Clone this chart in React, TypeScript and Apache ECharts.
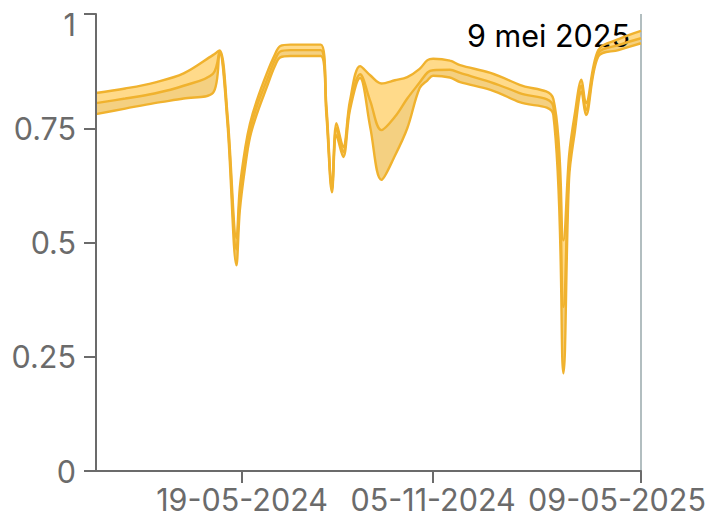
import React, { useEffect, useRef } from 'react';
import * as echarts from 'echarts';

const FONT = 'Inter, "Noto Sans", sans-serif';

const dates = [
  '2024-01-10', '2024-02-05', '2024-03-02', '2024-03-28', '2024-04-23', '2024-04-29',
  '2024-05-06', '2024-05-14', '2024-05-17', '2024-05-22', '2024-05-26', '2024-06-01',
  '2024-06-10', '2024-06-17', '2024-06-22', '2024-07-01', '2024-07-28', '2024-08-02',
  '2024-08-07', '2024-08-11', '2024-08-17', '2024-08-23', '2024-09-01', '2024-09-10',
  '2024-09-20', '2024-10-02', '2024-10-13', '2024-10-24', '2024-10-31', '2024-11-05',
  '2024-11-20', '2024-11-29', '2024-12-26', '2025-01-21', '2025-02-20', '2025-03-01',
  '2025-03-06', '2025-03-11', '2025-03-17', '2025-03-21', '2025-04-01', '2025-04-19',
  '2025-05-09',
];

const upper = [
  0.827, 0.837, 0.85, 0.87, 0.91, 0.92,
  0.78, 0.51, 0.62, 0.71, 0.76, 0.81,
  0.87, 0.91, 0.93, 0.933, 0.933, 0.8,
  0.625, 0.761, 0.709, 0.81, 0.886, 0.866,
  0.848, 0.855, 0.862, 0.88, 0.899, 0.902,
  0.898, 0.888, 0.871, 0.845, 0.814, 0.505,
  0.69, 0.78, 0.856, 0.805, 0.921, 0.945,
  0.963,
];

const middle = [
  0.805, 0.815, 0.826, 0.843, 0.869, 0.918,
  0.77, 0.485, 0.6, 0.69, 0.745, 0.797,
  0.855, 0.898, 0.918, 0.921, 0.921, 0.79,
  0.617, 0.75, 0.698, 0.8, 0.868, 0.81,
  0.746, 0.775, 0.815, 0.85, 0.872, 0.877,
  0.878, 0.871, 0.851, 0.827, 0.797, 0.359,
  0.665, 0.76, 0.843, 0.79, 0.914, 0.932,
  0.947,
];

const lower = [
  0.781, 0.793, 0.805, 0.815, 0.827, 0.915,
  0.76, 0.45, 0.57, 0.67, 0.73, 0.78,
  0.84, 0.885, 0.905, 0.908, 0.908, 0.78,
  0.61, 0.735, 0.687, 0.79, 0.86, 0.753,
  0.637, 0.69, 0.75, 0.838, 0.855, 0.865,
  0.861, 0.851, 0.834, 0.807, 0.779, 0.214,
  0.64, 0.74, 0.83, 0.779, 0.907, 0.921,
  0.936,
];

const xStart = '2024-01-10';
const xEnd = '2025-05-09';
const xTickDates = ['2024-05-19', '2024-11-05', '2025-05-09'];
const markerDate = '2025-05-09';
const markerLabel = '9 mei 2025';

const toTs = (s: string) => {
  const [y, m, d] = s.split('-').map(Number);
  return new Date(y, m - 1, d).getTime();
};
const pad = (n: number) => (n < 10 ? '0' + n : '' + n);
const fmtDate = (v: number) => {
  const d = new Date(v);
  return `${pad(d.getDate())}-${pad(d.getMonth() + 1)}-${d.getFullYear()}`;
};

const LINE = '#f0b22e';
const UP_FILL = '#ffda8a';
const LOW_FILL = '#f4d081';
const AXIS = '#6b6b6b';
const FS = 30.5;
const SMOOTH = 0.35;

export default function App() {
  const ref = useRef<HTMLDivElement>(null);
  useEffect(() => {
    if (!ref.current) return;
    const chart = echarts.init(ref.current, undefined, { renderer: 'svg' });
    const ts = dates.map(toTs);
    const maxTs = toTs(xEnd);
    const pts = (vals: number[]) => ts.map((t, i) => [t, vals[i]]);
    const areaSeries = (name: string, vals: number[], fill: string, z: number) => ({
      type: 'line',
      name,
      data: pts(vals),
      smooth: SMOOTH,
      symbol: 'none',
      lineStyle: { width: 0, opacity: 0 },
      areaStyle: { color: fill, opacity: 1, origin: 'start' },
      z,
      silent: true,
    });
    const lineSeries = (name: string, vals: number[], extra: any = {}) => ({
      type: 'line',
      name,
      data: pts(vals),
      smooth: SMOOTH,
      symbol: 'none',
      lineStyle: { color: LINE, width: 2.4 },
      z: 6,
      silent: true,
      ...extra,
    });
    chart.setOption({
      animation: false,
      grid: { left: 96, right: 69, top: 14, bottom: 54 },
      xAxis: {
        type: 'value',
        z: 10,
        min: toTs(xStart),
        max: maxTs,
        splitLine: { show: false },
        axisLine: { lineStyle: { color: AXIS, width: 2 } },
        axisTick: {
          show: true,
          length: 12,
          lineStyle: { color: AXIS, width: 2 },
          customValues: xTickDates.map(toTs),
        },
        axisLabel: {
          customValues: xTickDates.map(toTs),
          color: AXIS,
          fontSize: FS,
          fontFamily: FONT,
          margin: 13,
          formatter: (v: number) => {
            const s = fmtDate(v);
            return v === maxTs ? `{r|${s}}` : s;
          },
          rich: {
            r: { color: AXIS, fontSize: FS, fontFamily: FONT, padding: [0, 48, 0, 0] },
          },
        },
      },
      yAxis: {
        type: 'value',
        z: 10,
        min: 0,
        max: 1,
        interval: 0.25,
        splitLine: { show: false },
        axisLine: { show: true, lineStyle: { color: AXIS, width: 2 } },
        axisTick: { show: true, length: 12, lineStyle: { color: AXIS, width: 2 } },
        axisLabel: {
          color: AXIS,
          fontSize: FS,
          fontFamily: FONT,
          margin: 20,
          formatter: (v: number) => (v === 1 ? '{t|1}' : String(v)),
          rich: {
            t: { color: AXIS, fontSize: FS, fontFamily: FONT, padding: [21, 0, 0, 0] },
          },
        },
      },
      series: [
        areaSeries('upBand', upper, UP_FILL, 2),
        areaSeries('lowBand', middle, LOW_FILL, 3),
        areaSeries('cover', lower, '#ffffff', 4),
        lineSeries('lower', lower),
        lineSeries('middle', middle),
        lineSeries('upper', upper, {
          markLine: {
            silent: true,
            symbol: 'none',
            label: { show: false },
            lineStyle: { color: '#b2bec0', width: 2, type: 'solid' },
            data: [{ xAxis: toTs(markerDate) }],
          },
          markPoint: {
            silent: true,
            symbol: 'circle',
            symbolSize: 0,
            data: [{ coord: [toTs(markerDate), 1] }],
            label: {
              show: true,
              position: 'left',
              distance: 11,
              offset: [0, 21],
              formatter: markerLabel,
              color: '#000',
              fontSize: FS,
              fontFamily: FONT,
            },
          },
        }),
      ],
    });
    return () => chart.dispose();
  }, []);
  return (
    <div
      ref={ref}
      style={{ position: 'fixed', left: 0, top: 0, width: 710, height: 525, background: '#fff' }}
    />
  );
}
